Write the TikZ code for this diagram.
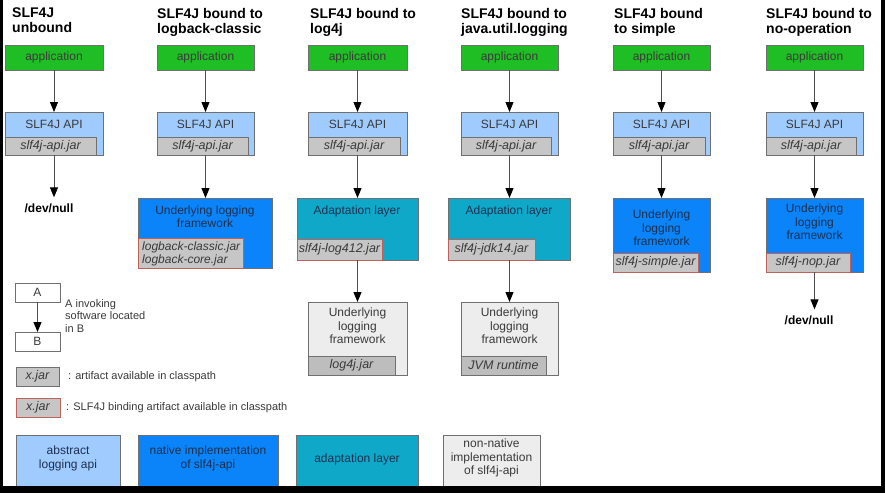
\documentclass[tikz,border=0pt]{standalone}
\usepackage{fontspec}
\setmainfont{Liberation Sans}
\usetikzlibrary{arrows.meta,fit}
\definecolor{appgreen}{HTML}{1FBE24}
\definecolor{apiblue}{HTML}{9FCBFF}
\definecolor{jargray}{HTML}{C6C6C6}
\definecolor{jardark}{HTML}{BDBDBD}
\definecolor{natblue}{HTML}{0A84F8}
\definecolor{adapt}{HTML}{0FA8C8}
\definecolor{nonnat}{HTML}{EDEDED}
\definecolor{edge}{HTML}{707070}
\definecolor{bindred}{HTML}{C0605A}
\definecolor{txt}{HTML}{3A3A3A}
\definecolor{navy}{HTML}{1E3050}
\tikzset{
  box/.style={draw=edge, line width=0.8pt, inner sep=0pt, outer sep=0pt},
  appbox/.style={box, fill=appgreen},
  apibox/.style={box, fill=apiblue},
  jarbox/.style={box, fill=jargray},
  bindjar/.style={box, fill=jargray, draw=bindred},
  libjar/.style={box, fill=jardark},
  natbox/.style={box, fill=natblue},
  adbox/.style={box, fill=adapt},
  nnbox/.style={box, fill=nonnat},
  whitebox/.style={box, fill=white},
  title/.style={font=\fontsize{14}{15}\selectfont\bfseries, text=black, align=left, inner sep=0pt, anchor=north west},
  btxt/.style={font=\fontsize{12}{13.5}\selectfont, text=txt, align=center, inner sep=0pt},
  ntxt/.style={btxt, text=navy},
  jtxt/.style={font=\fontsize{12.5}{13.5}\selectfont\itshape, text=txt, align=center, inner sep=0pt},
  ltxt/.style={font=\fontsize{11}{12.5}\selectfont, text=txt, align=left, inner sep=0pt},
  nulltxt/.style={font=\fontsize{12}{13}\selectfont\bfseries, text=black, inner sep=0pt},
  arr/.style={draw=edge!70!black, line width=0.9pt, -{Triangle[width=8pt,length=10pt,color=black]}},
}
\begin{document}
\begin{tikzpicture}[x=1pt,y=-1pt]
\useasboundingbox (0,0) rectangle (885,493);
\fill[white] (0,0) rectangle (885,493);

% ---------- column 1: unbound
\node[title] (t1) at (12,8) {SLF4J\\unbound};
\node[appbox, fit={(5,45)(103,70)}] (app1) {};
\node[btxt] at (app1.center) {application};
\node[apibox, fit={(5,112)(103,155)}] (api1) {};
\node[jarbox, fit={(5,137)(96,155)}] (jar1) {};
\node[btxt] (apit1) at (54,124) {SLF4J API};
\node[jtxt] at (jar1.center) {slf4j-api.jar};
\draw[arr] (app1.south) -- (api1.north);
\node[nulltxt, inner sep=6pt] (dn1) at (49,208) {/dev/null};
\draw[arr] (app1.south |- jar1.south) -- (app1.south |- dn1.north);

% ---------- column 2: logback-classic
\node[title] (t2) at (157,8) {SLF4J bound to\\logback-classic};
\node[appbox, fit={(157,45)(254,70)}] (app2) {};
\node[btxt] at (app2.center) {application};
\node[apibox, fit={(157,112)(254,155)}] (api2) {};
\node[jarbox, fit={(157,137)(248,155)}] (jar2) {};
\node[btxt] at (205.5,124) {SLF4J API};
\node[jtxt] at (jar2.center) {slf4j-api.jar};
\draw[arr] (app2.south) -- (api2.north);
\node[natbox, fit={(138,198)(272,268)}] (fw2) {};
\node[bindjar, fit={(138,238)(243,268)}] (bj2) {};
\node[ntxt] at (205,216.5) {Underlying logging\\framework};
\node[jtxt, font=\fontsize{12}{13.5}\selectfont\itshape, align=left, anchor=west] at (142,254) {logback-classic.jar\\logback-core.jar};
\draw[arr] (app2.south |- jar2.south) -- (app2.south |- fw2.north);

% ---------- column 3: log4j
\node[title] (t3) at (310,8) {SLF4J bound to\\log4j};
\node[appbox, fit={(308,45)(407,70)}] (app3) {};
\node[btxt] at (app3.center) {application};
\node[apibox, fit={(308,112)(407,155)}] (api3) {};
\node[jarbox, fit={(308,137)(400,155)}] (jar3) {};
\node[btxt] at (357.5,124) {SLF4J API};
\node[jtxt] at (jar3.center) {slf4j-api.jar};
\draw[arr] (app3.south) -- (api3.north);
\node[adbox, fit={(297,198)(418,260)}] (ad3) {};
\node[bindjar, fit={(297,239)(382,260)}] (bj3) {};
\node[ntxt] at (357,211) {Adaptation layer};
\node[jtxt] at (bj3.center) {slf4j-log412.jar};
\draw[arr] (app3.south |- jar3.south) -- (app3.south |- ad3.north);
\node[nnbox, fit={(308,302)(407,375)}] (fw3) {};
\node[libjar, fit={(308,356)(395,375)}] (lj3) {};
\node[btxt] at (357.5,326) {Underlying\\logging\\framework};
\node[jtxt] at (lj3.center) {log4j.jar};
\draw[arr] (app3.south |- bj3.south) -- (fw3.north);

% ---------- column 4: java.util.logging
\node[title] (t4) at (461,8) {SLF4J bound to\\java.util.logging};
\node[appbox, fit={(461,45)(558,70)}] (app4) {};
\node[btxt] at (app4.center) {application};
\node[apibox, fit={(461,112)(558,155)}] (api4) {};
\node[jarbox, fit={(461,137)(551,155)}] (jar4) {};
\node[btxt] at (509.5,124) {SLF4J API};
\node[jtxt] at (jar4.center) {slf4j-api.jar};
\draw[arr] (app4.south) -- (api4.north);
\node[adbox, fit={(448,198)(570,260)}] (ad4) {};
\node[bindjar, fit={(448,239)(535,260)}] (bj4) {};
\node[ntxt] at (509,211) {Adaptation layer};
\node[jtxt] at (bj4.center) {slf4j-jdk14.jar};
\draw[arr] (app4.south |- jar4.south) -- (app4.south |- ad4.north);
\node[nnbox, fit={(461,302)(558,375)}] (fw4) {};
\node[libjar, fit={(461,356)(546,375)}] (lj4) {};
\node[btxt] at (509.5,326) {Underlying\\logging\\framework};
\node[jtxt] at (lj4.center) {JVM runtime};
\draw[arr] (app4.south |- bj4.south) -- (fw4.north);

% ---------- column 5: simple
\node[title] (t5) at (614,8) {SLF4J bound\\to simple};
\node[appbox, fit={(613,45)(710,70)}] (app5) {};
\node[btxt] at (app5.center) {application};
\node[apibox, fit={(613,112)(710,155)}] (api5) {};
\node[jarbox, fit={(613,137)(705,155)}] (jar5) {};
\node[btxt] at (661.5,124) {SLF4J API};
\node[jtxt] at (jar5.center) {slf4j-api.jar};
\draw[arr] (app5.south) -- (api5.north);
\node[natbox, fit={(613,198)(710,272)}] (fw5) {};
\node[bindjar, fit={(613,253)(698,272)}] (bj5) {};
\node[ntxt] at (661.5,228) {Underlying\\logging\\framework};
\node[jtxt] at (bj5.center) {slf4j-simple.jar};
\draw[arr] (app5.south |- jar5.south) -- (app5.south |- fw5.north);

% ---------- column 6: no-operation
\node[title] (t6) at (766,8) {SLF4J bound to\\no-operation};
\node[appbox, fit={(766,45)(863,70)}] (app6) {};
\node[btxt] at (app6.center) {application};
\node[apibox, fit={(766,112)(863,155)}] (api6) {};
\node[jarbox, fit={(766,137)(856,155)}] (jar6) {};
\node[btxt] at (814.5,124) {SLF4J API};
\node[jtxt] at (jar6.center) {slf4j-api.jar};
\draw[arr] (app6.south) -- (api6.north);
\node[natbox, fit={(766,198)(863,272)}] (fw6) {};
\node[bindjar, fit={(766,253)(850,272)}] (bj6) {};
\node[ntxt] at (814.5,222) {Underlying\\logging\\framework};
\node[jtxt] at (bj6.center) {slf4j-nop.jar};
\draw[arr] (app6.south |- jar6.south) -- (app6.south |- fw6.north);
\node[nulltxt, inner sep=6pt] (dn6) at (809,320) {/dev/null};
\draw[arr] (app6.south |- bj6.south) -- (app6.south |- dn6.north);

% ---------- legend
\node[whitebox, fit={(15,283)(60,302)}] (la) {};
\node[btxt] at (la.center) {A};
\node[whitebox, fit={(15,332)(60,351)}] (lb) {};
\node[btxt] at (lb.center) {B};
\draw[arr] (la.south) -- (lb.north);
\node[ltxt, anchor=north west] (linv) at (65,299) {A invoking\\software located\\in B};

\node[jarbox, fit={(16,367)(59,386)}] (lj) {};
\node[jtxt] at (lj.center) {x.jar};
\node[ltxt, anchor=west] (ljt) at (68,377) {: artifact available in classpath};
\node[bindjar, fit={(16,398)(60,417)}] (lbj) {};
\node[jtxt] at (lbj.center) {x.jar};
\node[ltxt, anchor=west] (lbjt) at (66,408) {: SLF4J binding artifact available in classpath};

% ---------- colour legend
\node[apibox, fit={(16,435)(120,492)}] (k1) {};
\node[btxt, text=navy] at (68,458.5) {abstract\\logging api};
\node[natbox, fit={(138,435)(278,492)}] (k2) {};
\node[btxt, text=navy] at (208,458.5) {native implementation\\of slf4j-api};
\node[adbox, fit={(296,435)(418,492)}] (k3) {};
\node[btxt, text=navy] at (357,459) {adaptation layer};
\node[nnbox, fit={(443,435)(540,492)}] (k4) {};
\node[btxt] at (491.5,458) {non-native\\implementation\\of slf4j-api};

% ---------- screen frame
\fill[black] (0,0) rectangle (3,493);
\fill[black] (881,0) rectangle (885,493);
\fill[black] (0,486) rectangle (885,493);
\end{tikzpicture}
\end{document}
